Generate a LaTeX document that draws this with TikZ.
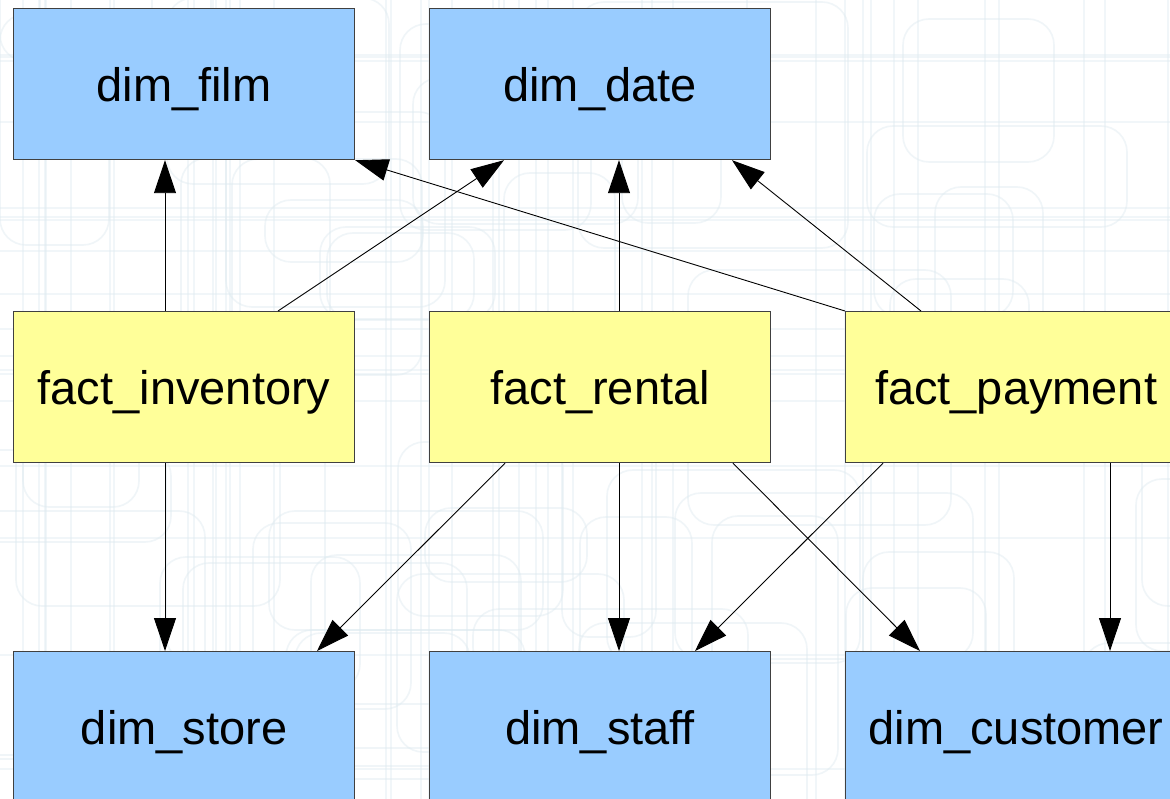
\documentclass[tikz,border=0pt]{standalone}
\usepackage{fontspec}
\setmainfont{Liberation Sans}
\usetikzlibrary{arrows.meta}
\definecolor{dimblue}{HTML}{99CCFF}
\definecolor{factyellow}{HTML}{FFFF99}
\definecolor{bgline}{RGB}{222,234,240}

\begin{document}
\begin{tikzpicture}[x=1pt,y=-1pt,
  table/.style={draw=black!75, line width=1.2pt, minimum width=341pt,
    minimum height=151pt, inner sep=0pt, anchor=north west,
    text height=35pt, text depth=0pt,
    font=\fontsize{47}{56}\selectfont},
  dimtab/.style={table, fill=dimblue},
  facttab/.style={table, fill=factyellow},
  link/.style={-{Triangle[length=33pt,width=22pt]}, line width=0.9pt, black},
  bgshape/.style={draw=bgline, line width=1.6pt, rounded corners=26pt}]

\useasboundingbox (0,0) rectangle (1170,799);
\clip (0,0) rectangle (1170,799);
\fill[white] (0,0) rectangle (1170,799);

% faint wallpaper of rounded frames and rules
\pgfmathsetseed{12}
\foreach \i in {1,...,60}{
  \pgfmathsetmacro\xa{random(-100,1150)}
  \pgfmathsetmacro\ya{random(-100,780)}
  \pgfmathsetmacro\wa{random(90,300)}
  \pgfmathsetmacro\ha{random(60,260)}
  \draw[bgshape, opacity=0.45] (\xa,\ya) rectangle ++(\wa,\ha);
}
\foreach \i in {1,...,40}{
  \pgfmathsetmacro\xa{random(0,1170)}
  \draw[bgline, line width=1.4pt, opacity=0.4] (\xa,0) -- (\xa,799);
}
\foreach \i in {1,...,18}{
  \pgfmathsetmacro\ya{random(0,799)}
  \draw[bgline, line width=1.4pt, opacity=0.4] (0,\ya) -- (1170,\ya);
}

% dimension and fact tables
\node[dimtab]  (film)  at (13,8)    {dim\_film};
\node[dimtab]  (date)  at (429,8)   {dim\_date};
\node[facttab] (fi)    at (13,311)  {fact\_inventory};
\node[facttab] (fr)    at (429,311) {fact\_rental};
\node[facttab] (fp)    at (845,311) {fact\_payment};
\node[dimtab]  (store) at (13,651)  {dim\_store};
\node[dimtab]  (staff) at (429,651) {dim\_staff};
\node[dimtab]  (cust)  at (845,651) {dim\_customer};

% foreign-key references
\draw[link] ([xshift=152pt]fi.north west) -- ([xshift=152pt]film.south west);
\draw[link] ([xshift=265pt]fi.north west) -- ([xshift=75pt]date.south west);
\draw[link] ([xshift=190pt]fr.north west) -- ([xshift=190pt]date.south west);
\draw[link] (fp.north west) -- (film.south east);
\draw[link] ([xshift=76pt]fp.north west) -- ([xshift=303pt]date.south west);

\draw[link] ([xshift=152pt]fi.south west) -- ([xshift=152pt]store.north west);
\draw[link] ([xshift=76pt]fr.south west) -- ([xshift=304pt]store.north west);
\draw[link] ([xshift=190pt]fr.south west) -- ([xshift=190pt]staff.north west);
\draw[link] ([xshift=304pt]fr.south west) -- ([xshift=75pt]cust.north west);
\draw[link] ([xshift=38pt]fp.south west) -- ([xshift=266pt]staff.north west);
\draw[link] ([xshift=265pt]fp.south west) -- ([xshift=265pt]cust.north west);
\end{tikzpicture}
\end{document}
